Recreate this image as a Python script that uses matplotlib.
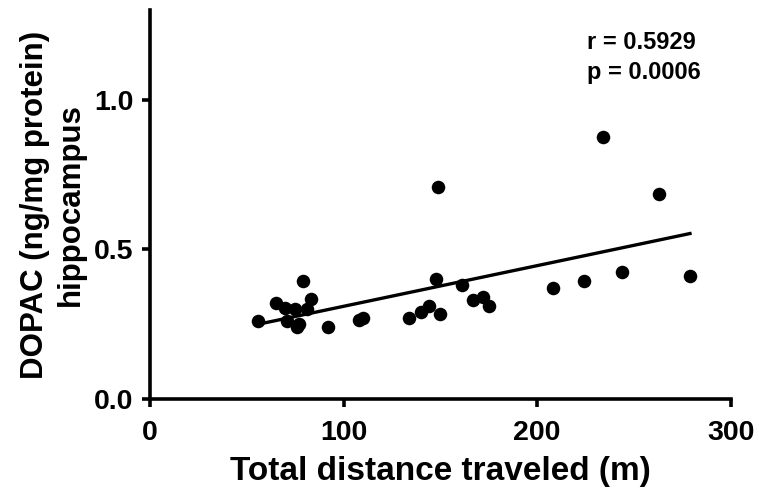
import matplotlib.pyplot as plt
import numpy as np

plt.rcParams['font.family'] = ['Liberation Sans', 'DejaVu Sans']
plt.rcParams['font.weight'] = 'bold'

distance = [56, 65, 70, 71, 75, 76, 77, 79, 81, 83, 92,
            108, 110, 134, 140, 144, 148, 150, 149, 161, 167, 172, 175,
            208, 224, 234, 244, 263, 279]
dopac = [0.26, 0.32, 0.305, 0.26, 0.30, 0.24, 0.25, 0.395, 0.30, 0.335, 0.24,
         0.265, 0.27, 0.27, 0.29, 0.31, 0.40, 0.285, 0.708, 0.38, 0.33, 0.342, 0.312,
         0.372, 0.393, 0.876, 0.426, 0.685, 0.41]
r_text = "r = 0.5929\np = 0.0006"

fig = plt.figure(figsize=(7.59, 4.97), dpi=100)
ax = fig.add_axes([0.1976, 0.197, 0.765, 0.783])

x = np.array(distance)
y = np.array(dopac)
ax.scatter(x, y, s=95, color='black', zorder=3, linewidths=0)

# linear regression line over the data range
slope, intercept = np.polyfit(x, y, 1)
xl = np.array([x.min(), x.max()])
ax.plot(xl, slope * xl + intercept, color='black', lw=2.4)

ax.set_xlim(0, 300)
ax.set_ylim(0, 1.3)
ax.set_xticks([0, 100, 200, 300])
ax.set_yticks([0.0, 0.5, 1.0])
ax.set_yticklabels(['0.0', '0.5', '1.0'])
for s in ['top', 'right']:
    ax.spines[s].set_visible(False)
for s in ['left', 'bottom']:
    ax.spines[s].set_linewidth(2.6)
ax.tick_params(width=2.6, length=6, labelsize=20.5)
ax.tick_params(axis='x', pad=9)
ax.tick_params(axis='y', pad=6)

ax.set_xlabel('Total distance traveled (m)', fontsize=24, fontweight='bold',
              labelpad=7)
ax.set_ylabel('DOPAC (ng/mg protein)\nhippocampus', fontsize=22.5, fontweight='bold',
              linespacing=1.25, labelpad=6)

ax.text(226, 1.228, r_text, fontsize=17, fontweight='bold', va='top', ha='left',
        linespacing=1.35)

fig.savefig('out.png', dpi=100)
